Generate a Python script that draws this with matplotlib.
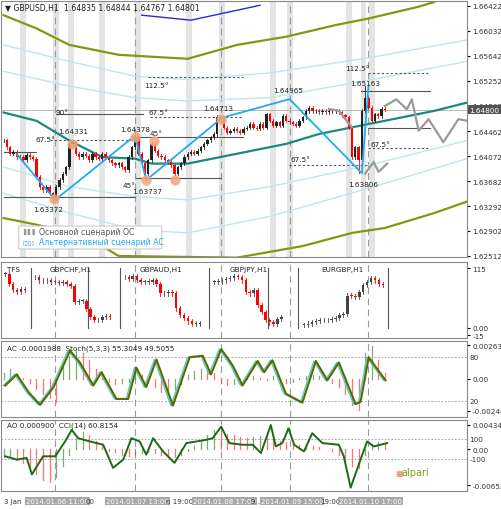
import matplotlib
matplotlib.use("Agg")
import matplotlib.pyplot as plt
import matplotlib.transforms as mtransforms
import numpy as np
from matplotlib.patches import Rectangle, FancyBboxPatch

plt.rcParams['font.family'] = ['DejaVu Sans']

# ---------------- data ----------------
closes = [1.6432,1.6421,1.6411,1.6414,1.6406,1.6406,1.6401,1.6409,1.6406,1.6403,
          1.6375,1.6359,1.6354,1.6359,1.6349,1.6341,1.6359,1.6370,1.6380,1.6390,
          1.6426,1.6429,1.6411,1.6406,1.6411,1.6408,1.6401,1.6411,1.6406,1.6403,
          1.6411,1.6406,1.6401,1.6396,1.6393,1.6396,1.6390,1.6385,1.6406,1.6421,
          1.6437,1.6411,1.6396,1.6380,1.6401,1.6427,1.6416,1.6408,1.6406,1.6401,
          1.6398,1.6393,1.6380,1.6390,1.6396,1.6406,1.6411,1.6414,1.6411,1.6416,
          1.6421,1.6427,1.6432,1.6437,1.6442,1.6468,1.6465,1.6452,1.6444,1.6447,
          1.6450,1.6447,1.6444,1.6450,1.6452,1.6458,1.6452,1.6450,1.6458,1.6452,
          1.6473,1.6463,1.6455,1.6460,1.6455,1.6470,1.6463,1.6460,1.6458,1.6455,
          1.6463,1.6468,1.6478,1.6483,1.6478,1.6478,1.6476,1.6478,1.6476,1.6478,
          1.6478,1.6478,1.6476,1.6471,1.6468,1.6452,1.6406,1.6421,1.6401,1.6478,
          1.6499,1.6483,1.6463,1.6473,1.6470,1.6481,1.6480]
extreme_highs = {110: 1.65163, 21: 1.64331, 40: 1.64378, 65: 1.64713}
extreme_lows = {108: 1.63806, 15: 1.63372, 43: 1.63737}

price_ticks = [1.66422,1.66032,1.65642,1.65252,1.64862,1.64462,1.64072,1.63682,1.63292,1.62902,1.62512]

olive_top_x = [0,10,20,35,56,71,86,101,111,126,131]
olive_top_y = [1.66278,1.66071,1.65813,1.65658,1.65596,1.65813,1.65942,1.66123,1.66226,1.66407,1.66484]
olive_bot_x = [0,10,20,30,35,71,91,106,116,131,141]
olive_bot_y = [1.63104,1.63001,1.62872,1.62666,1.62511,1.62485,1.62666,1.62872,1.62949,1.63182,1.63362]
teal_x = [0,10,20,30,40,45,56,66,76,86,96,106,116,131,141]
teal_y = [1.64755,1.64626,1.64317,1.64059,1.64033,1.63956,1.63956,1.64059,1.64162,1.64265,1.64420,1.64523,1.64626,1.64781,1.64910]
band_x = [0,20,40,56,81,111,141]
band1 = [1.65813,1.65555,1.65323,1.65271,1.65375,1.65610,1.65891]
band2 = [1.65400,1.65168,1.64987,1.64936,1.64987,1.65260,1.65555]
band3 = [1.63904,1.63595,1.63440,1.63388,1.63595,1.63930,1.64317]
band4 = [1.63491,1.63182,1.62924,1.62872,1.63130,1.63570,1.64033]
blue_top_x = [42,57,71,78]
blue_top_y = [1.66278,1.66200,1.66355,1.66433]

alt_x = [4,15.7,40,43.4,66.5,87,109,111]
alt_y = [1.64103,1.63388,1.64394,1.63698,1.64674,1.64965,1.63806,1.65163]
main_x = [116,119.5,122.7,124.2,126.3,129.3,133.8,138.4,141]
main_y = [1.64858,1.64961,1.64806,1.64961,1.64471,1.64652,1.64291,1.64652,1.64626]
main_prev_x = [99,102,106]
main_prev_y = [1.64810,1.64781,1.64523]
main_after_x = [110,112.6,114.1,116.7]
main_after_y = [1.63801,1.63981,1.63827,1.63956]
circle_x = [20.7,15.2,40,43.4,45.7,52,66.2]
circle_y = [1.64265,1.63398,1.64368,1.63698,1.64317,1.63703,1.64652]

stripes = [6,16,20.5,30,41,56.5,66.5,82,87,105,109.5,112]
vlines = [15.7,40,66.2,87,111]

stoch_x = [0.5,4,7.6,11.1,15.2,20.2,23.2,27.3,29.8,34.3,37.9,40.4,43.4,46.5,51.5,56.6,60.6,63.1,66.2,69.7,72.7,77.3,79.3,81.8,85.9,90.9,95,98.5,102,107.1,108.6,111.1,116.2]
stoch_v = [41,56,32,15,39,88,72,41,59,23,23,65,39,76,14,79,81,56,90,68,41,74,59,75,30,18,74,48,72,16,19,79,48]
ac_v = [5,8,4,1,-3,-8,-12,-15,-18,
        10,18,22,20,15,8,3,-2,-4,
        -3,-2,5,3,-2,-6,-10,-12,-8,
        -4,3,6,8,7,5,-3,-5,-4,
        -2,1,2,1,-1,2,-2,-3,-2,
        1,2,3,2,-1,-3,-6,-12,-20,
        -24,20,26,15,5]
ao_v = [-15,-15,-20,-25,-35,-45,-55,-60,-50,
        -30,-10,20,30,25,15,5,-3,-6,
        -10,-12,-10,-8,-6,-8,-10,-12,-14,
        -10,-3,5,15,25,35,30,28,25,
        22,20,22,24,20,18,15,12,10,
        8,6,5,3,0,-3,-10,-20,-30,
        -35,-10,10,12,10]
cci_x = [0.5,4,7,8.6,12,15.7,18.7,20.7,22.7,26.3,30.3,33.3,36.4,38.9,41.4,43.4,45.5,48.5,52,55.6,58.6,61.6,63.6,66.2,68.7,72.7,75.8,78.3,81.3,82.8,84.8,86.7,88.4,91.4,93.9,97,102,103.5,105.6,108.6,110.6,112.6,116.7]
cci_v = [-71,-103,-87,-248,-71,-71,74,187,106,74,42,-184,-103,106,74,-55,106,-23,-135,58,74,90,106,219,58,42,42,-39,235,26,58,203,42,-23,155,58,42,-71,-377,-103,74,26,58]

tfs_names = ["TFS","GBPCHF,H1","GBPAUD,H1","GBPJPY,H1","EURGBP,H1"]
tfs_start = [0.5,9.6,36.9,64.1,91.4]
tfs_series = [
    [104,85,72,69,75,72],
    [97,91,91,91,88,88,86,88,85,81,49,52,52,36,20,14,14,20,23,20],
    [97,94,100,92,88,88,89,91,85,66,66,69,66,37,24,18,12,8,8,8],
    [88,89,91,94,96,100,98,91,69,66,72,43,30,14,10,8,17,21],
    [5,8,11,13,14,14,15,17,19,24,27,62,61,59,69,82,88,95,91,85,82],
]
tfs_seps = [8.3,25.8,35.4,62.6,80.5,89.7,116.9]

time_labels = [(0.0,"3 Jan",False),(6.7,"2014.01.06 11:00",True),(25.0,"00",False),
               (31.2,"2014.01.07 13:00",True),(49.4,"n 19:00",False),(57.6,"2014.01.08 17:00",True),
               (75.2,"9 .",False),(78.2,"2014.01.09 15:00",True),(96.4,"19:00",False),(102.1,"2014.01.10 17:00",True)]

# ---------------- figure ----------------
W, H = 502, 510
fig = plt.figure(figsize=(W/100, H/100), dpi=100)
fig.patch.set_facecolor('white')

def rect(top, bot):
    return [0.002, 1-bot/H, 466/W, (bot-top)/H]

XL = (-0.8, 141)
ax = fig.add_axes(rect(2, 258))
ax.set_xlim(*XL); ax.set_ylim(1.62495, 1.66500)
fs = 5.2
for s in stripes:
    ax.axvspan(s-0.9, s+0.9, color='#e4e4e4', lw=0, zorder=0)
for v in vlines:
    ax.axvline(v, color='#9a9a9a', lw=0.8, ls=(0,(6,4)), zorder=1)

ax.plot(olive_top_x, olive_top_y, color='#7f9a12', lw=1.6, zorder=2)
ax.plot(olive_bot_x, olive_bot_y, color='#7f9a12', lw=1.6, zorder=2)
ax.plot(blue_top_x, blue_top_y, color='#2a2ad0', lw=1.0, zorder=2)
for b in (band1, band2, band3, band4):
    ax.plot(band_x, b, color='#bfe6ee', lw=1.0, zorder=2)
ax.plot(teal_x, teal_y, color='#1a8a7a', lw=1.6, zorder=3)
ax.axhline(closes[-1], color='#b0b0b0', lw=0.6, zorder=2)

opens = [closes[0]] + closes[:-1]
for i, (o, c) in enumerate(zip(opens, closes)):
    hi = extreme_highs.get(i, max(o, c) + 0.00025)
    lo = extreme_lows.get(i, min(o, c) - 0.00025)
    col = '#222222' if c >= o else '#ff0000'
    ax.plot([i, i], [lo, hi], color=col, lw=0.6, zorder=4)
    ax.add_patch(Rectangle((i-0.35, min(o, c)), 0.7, max(abs(c-o), 0.00004), color=col, lw=0, zorder=5))

ax.plot(alt_x, alt_y, color='#22aaee', lw=1.3, zorder=6)
for xs, ys in ((main_x, main_y), (main_prev_x, main_prev_y), (main_after_x, main_after_y)):
    ax.plot(xs, ys, color='#9a9a9a', lw=1.6, zorder=6)
ax.scatter(circle_x, circle_y, s=55, color='#f4a57a', alpha=0.85, zorder=7, lw=0)

solid = [((0,10),1.64135),((0,40),1.63440),((16,42.4),1.64729),((40,72.7),1.64368),((40.4,66.2),1.63724),((108.6,129.8),1.65091),((111,129.8),1.64517)]
for (x0,x1),y in solid:
    ax.plot([x0,x1],[y,y], color='#555555', lw=0.8, zorder=3)
dashed = [((14,40.4),1.64327),((44,72.7),1.65313),((44.4,72.7),1.64678),((86.9,111),1.63930),((111,129.8),1.65369),((111,129.8),1.64195)]
for (x0,x1),y in dashed:
    ax.plot([x0,x1],[y,y], color='#555555', lw=0.8, ls=(0,(2,2)), zorder=3)

labels = [(13.6,1.63250,"1.63372"),(21.2,1.64470,"1.64331"),(39.9,1.64490,"1.64378"),(43.6,1.63520,"1.63737"),
          (65.2,1.64820,"1.64713"),(86.7,1.65100,"1.64965"),(110.1,1.65220,"1.65163"),(109.3,1.63640,"1.63806"),
          (12.6,1.64340,"67.5°"),(17.7,1.64770,"90°"),(46.5,1.64430,"45°"),(38.2,1.63620,"45°"),
          (46.5,1.65190,"112.5°"),(47.2,1.64760,"67.5°"),(90.4,1.64030,"67.5°"),(107.6,1.65450,"112.5°"),(114.7,1.64260,"67.5°")]
for x, y, t in labels:
    ax.text(x, y, t, fontsize=fs, ha='center', va='center', color='#222222', zorder=8)

ax.text(0.3, 1.66400, "▼ GBPUSD,H1  1.64835 1.64844 1.64767 1.64801", fontsize=5.6, va='center', color='#222222', zorder=9)
ax.add_patch(FancyBboxPatch((4.6, 1.62620), 43.5, 0.00360, boxstyle='round,pad=0,rounding_size=1.2',
                            mutation_aspect=0.00008, fc='white', ec='#cccccc', lw=0.8, zorder=8))
ax.text(10.8, 1.62900, "Основной сценарий ОС", fontsize=5.6, color='#555555', va='center', zorder=9)
ax.text(10.8, 1.62740, "Альтернативный сценарий АС", fontsize=5.6, color='#22aaee', va='center', zorder=9)
ax.text(5.8, 1.62900, "▌▌▌", fontsize=4.5, color='#999999', va='center', zorder=9)
ax.text(5.8, 1.62740, "[▯▯]", fontsize=4.5, color='#22aaee', va='center', zorder=9)

ax.yaxis.tick_right()
ax.set_yticks(price_ticks)
ax.set_yticklabels([f"{p:.5f}" for p in price_ticks], fontsize=fs, color='#333333')
ax.tick_params(axis='y', length=2, pad=2)
ax.set_xticks([])
ax.text(1.005, closes[-1], f"{closes[-1]:.5f}", transform=ax.get_yaxis_transform(), fontsize=fs, color='white',
        va='center', bbox=dict(boxstyle='square,pad=0.2', fc='#555555', ec='none'), zorder=10, clip_on=False)

# ---------------- TFS ----------------
at = fig.add_axes(rect(263, 339))
at.set_xlim(*XL); at.set_ylim(-19.9, 126.6)
for v in vlines:
    at.axvline(v, color='#9a9a9a', lw=0.8, ls=(0,(6,4)))
for s in tfs_seps:
    at.plot([s, s], [0, 115], color='#555555', lw=0.8)
for name, st, ser in zip(tfs_names, tfs_start, tfs_series):
    op = [ser[0]] + ser[:-1]
    for k, (o, c) in enumerate(zip(op, ser)):
        x = st + k*1.2
        col = '#444444' if c >= o else '#ff0000'
        at.plot([x, x], [min(o, c)-4, max(o, c)+4], color=col, lw=0.6)
        at.add_patch(Rectangle((x-0.4, min(o, c)), 0.8, max(abs(c-o), 1.2), color=col, lw=0))
at.text(1.0, 113, "TFS", fontsize=fs, color='#222222', va='center')
for name, x in zip(tfs_names[1:], [20.5, 48, 74.5, 103]):
    at.text(x, 113, name, fontsize=fs, color='#222222', va='center', ha='center')
at.yaxis.tick_right()
at.set_yticks([115, 0, -15]); at.set_yticklabels(["115", "0.00", "-15"], fontsize=fs, color='#333333')
at.tick_params(axis='y', length=2, pad=2); at.set_xticks([])

# ---------------- AC / Stoch ----------------
aa = fig.add_axes(rect(342, 418))
aa.set_xlim(*XL); aa.set_ylim(-0.00297, 0.00297)
for v in vlines:
    aa.axvline(v, color='#9a9a9a', lw=0.8, ls=(0,(6,4)))
ac_x = list(range(0, 117, 2))
for i, (x, v) in enumerate(zip(ac_x, ac_v)):
    prev = ac_v[i-1] if i else v
    col = '#5a9a4a' if v >= prev else '#ff5050'
    aa.plot([x, x], [0, v*1e-4], color=col, lw=0.9, alpha=0.8)
as2 = aa.twinx()
as2.set_ylim(-1.3, 100.9)
as2.axhline(80, color='#999999', lw=0.6, ls=(0,(2,2)))
as2.axhline(20, color='#999999', lw=0.6, ls=(0,(2,2)))
as2.plot(np.array(stoch_x)-0.6, stoch_v, color='#5cc8c8', lw=1.0)
as2.plot(stoch_x, stoch_v, color='#556b00', lw=1.5)
as2.set_yticks([]); as2.set_xlim(*XL)
aa.yaxis.tick_right()
aa.set_yticks([0.002633, 0, -0.00248]); aa.set_yticklabels(["0.002633", "0.00", "-0.00248"], fontsize=fs, color='#333333')
aa.tick_params(axis='y', length=2, pad=2, left=False, labelleft=False, right=True, labelright=True); aa.set_xticks([])
aa.text(1.0, 0.00245, "AC -0.0001988  Stoch(5,3,3) 55.3049 49.5055", fontsize=fs, color='#222222', va='center')
aa.text(1.005, 80/102.2+0.013, "80", transform=aa.transAxes, fontsize=fs, color='#333333', va='center')
aa.text(1.005, 21.3/102.2, "20", transform=aa.transAxes, fontsize=fs, color='#333333', va='center')

# ---------------- AO / CCI ----------------
ao = fig.add_axes(rect(421, 492))
ao.set_xlim(*XL); ao.set_ylim(-0.00757, 0.00524)
for v in vlines:
    ao.axvline(v, color='#9a9a9a', lw=0.8, ls=(0,(6,4)))
for i, (x, v) in enumerate(zip(ac_x, ao_v)):
    prev = ao_v[i-1] if i else v
    col = '#5a9a4a' if v >= prev else '#ff5050'
    ao.plot([x, x], [0, v*1e-4], color=col, lw=0.9, alpha=0.8)
ac2 = ao.twinx()
ac2.set_ylim(-410, 284); ac2.set_xlim(*XL)
ac2.axhline(100, color='#999999', lw=0.6, ls=(0,(2,2)))
ac2.axhline(-100, color='#999999', lw=0.6, ls=(0,(2,2)))
ac2.plot(cci_x, cci_v, color='#1a6a1a', lw=1.4)
ac2.set_yticks([])
ao.yaxis.tick_right()
ao.set_yticks([0.004349, 0, -0.006524]); ao.set_yticklabels(["0.004349", "0.00", "-0.006524"], fontsize=fs, color='#333333')
ao.tick_params(axis='y', length=2, pad=2, left=False, labelleft=False, right=True, labelright=True); ao.set_xticks([])
ao.text(1.0, 0.0043, "AO 0.000900  CCI(14) 60.8154", fontsize=fs, color='#222222', va='center')
ao.text(1.005, 510/694, "100", transform=ao.transAxes, fontsize=fs, color='#333333', va='center')
ao.text(1.005, 310/694, "-100", transform=ao.transAxes, fontsize=fs, color='#333333', va='center')
ao.text(121, -0.0042, "alpari", fontsize=7, color='#7a9a20', va='center')
ao.text(119.3, -0.0042, "▦", fontsize=6, color='#e08060', va='center')

for a in (ax, at, aa, ao):
    for sp in a.spines.values():
        sp.set_color('#888888'); sp.set_linewidth(0.8)
for a in (as2, ac2):
    for sp in a.spines.values():
        sp.set_visible(False)

tr = mtransforms.blended_transform_factory(ao.transData, fig.transFigure)
for x, t, boxed in time_labels:
    if boxed:
        fig.text(x, 1-502/H, t, transform=tr, fontsize=5.0, color='white', va='center',
                 bbox=dict(boxstyle='square,pad=0.15', fc='#a8a8a8', ec='none'))
    else:
        fig.text(x, 1-502/H, t, transform=tr, fontsize=5.0, color='#333333', va='center')

fig.savefig("out.png", dpi=100)
